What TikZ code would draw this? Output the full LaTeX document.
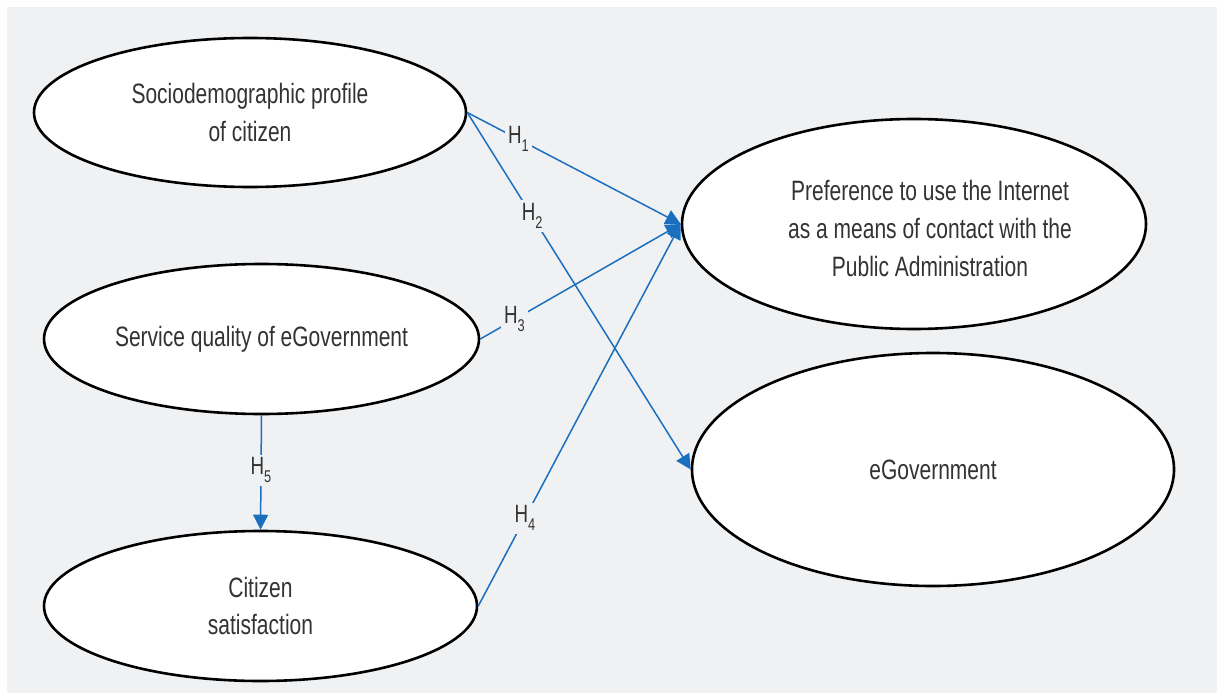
\documentclass[tikz,border=0pt]{standalone}
\usepackage{fontspec}
\setmainfont{Liberation Sans}[FakeStretch=0.75]
\usetikzlibrary{shapes.geometric,arrows.meta}
\definecolor{panelgray}{RGB}{240,241,243}
\definecolor{pathblue}{RGB}{27,111,191}
\definecolor{inkgray}{RGB}{51,51,51}
% hypothesis label: H with a lowered index
\newcommand{\hypsub}[1]{H\raisebox{-8pt}{\fontsize{17}{17}\selectfont #1}}
\begin{document}
\begin{tikzpicture}[x=1pt,y=-1pt,
  construct/.style={ellipse, draw=black, line width=2.6pt, fill=white,
    inner sep=0pt, text=inkgray, align=center,
    font=\fontsize{28}{37.5}\selectfont},
  constructtext/.style={inner sep=0pt, text=inkgray, align=center,
    font=\fontsize{28}{38}\selectfont},
  hypo/.style={draw=pathblue, line width=1.5pt,
    -{Triangle[length=15pt,width=15pt]}},
  hlabel/.style={fill=panelgray, inner sep=3pt, text=inkgray,
    font=\fontsize{25}{25}\selectfont}
]
\useasboundingbox (0,0) rectangle (1217,695);
\fill[panelgray] (7,7) rectangle (1217,693);

% constructs
\node[construct, minimum width=432pt, minimum height=149pt] (soc) at (250,112.5)
  {Sociodemographic profile\\of citizen};
\node[construct, minimum width=435pt, minimum height=150pt] (serv) at (261.5,339)
  {Service quality of eGovernment};
\node[construct, minimum width=433pt, minimum height=150pt] (sat) at (260.5,606)
  {Citizen\\satisfaction};
\node[construct, minimum width=464pt, minimum height=210pt] (pref) at (914,224) {};
\node[constructtext] (preftext) at (930,228)
  {Preference to use the Internet\\as a means of contact with the\\Public Administration};
\node[construct, minimum width=482pt, minimum height=233pt] (egov) at (933,469.5)
  {eGovernment};

% hypotheses
\draw[hypo] (soc.east) -- node[hlabel, pos=0.24] {\hypsub{1}} (pref.west);
\draw[hypo] (soc.east) -- node[hlabel, pos=0.29] {\hypsub{2}} (egov.west);
\draw[hypo] (serv.east) -- node[hlabel, pos=0.17] {\hypsub{3}} (pref.west);
\draw[hypo] (sat.east) -- node[hlabel, pos=0.23] {\hypsub{4}} (pref.west);
\draw[hypo] (serv.south) -- node[hlabel, pos=0.48] {\hypsub{5}} (sat.north);
\end{tikzpicture}
\end{document}
